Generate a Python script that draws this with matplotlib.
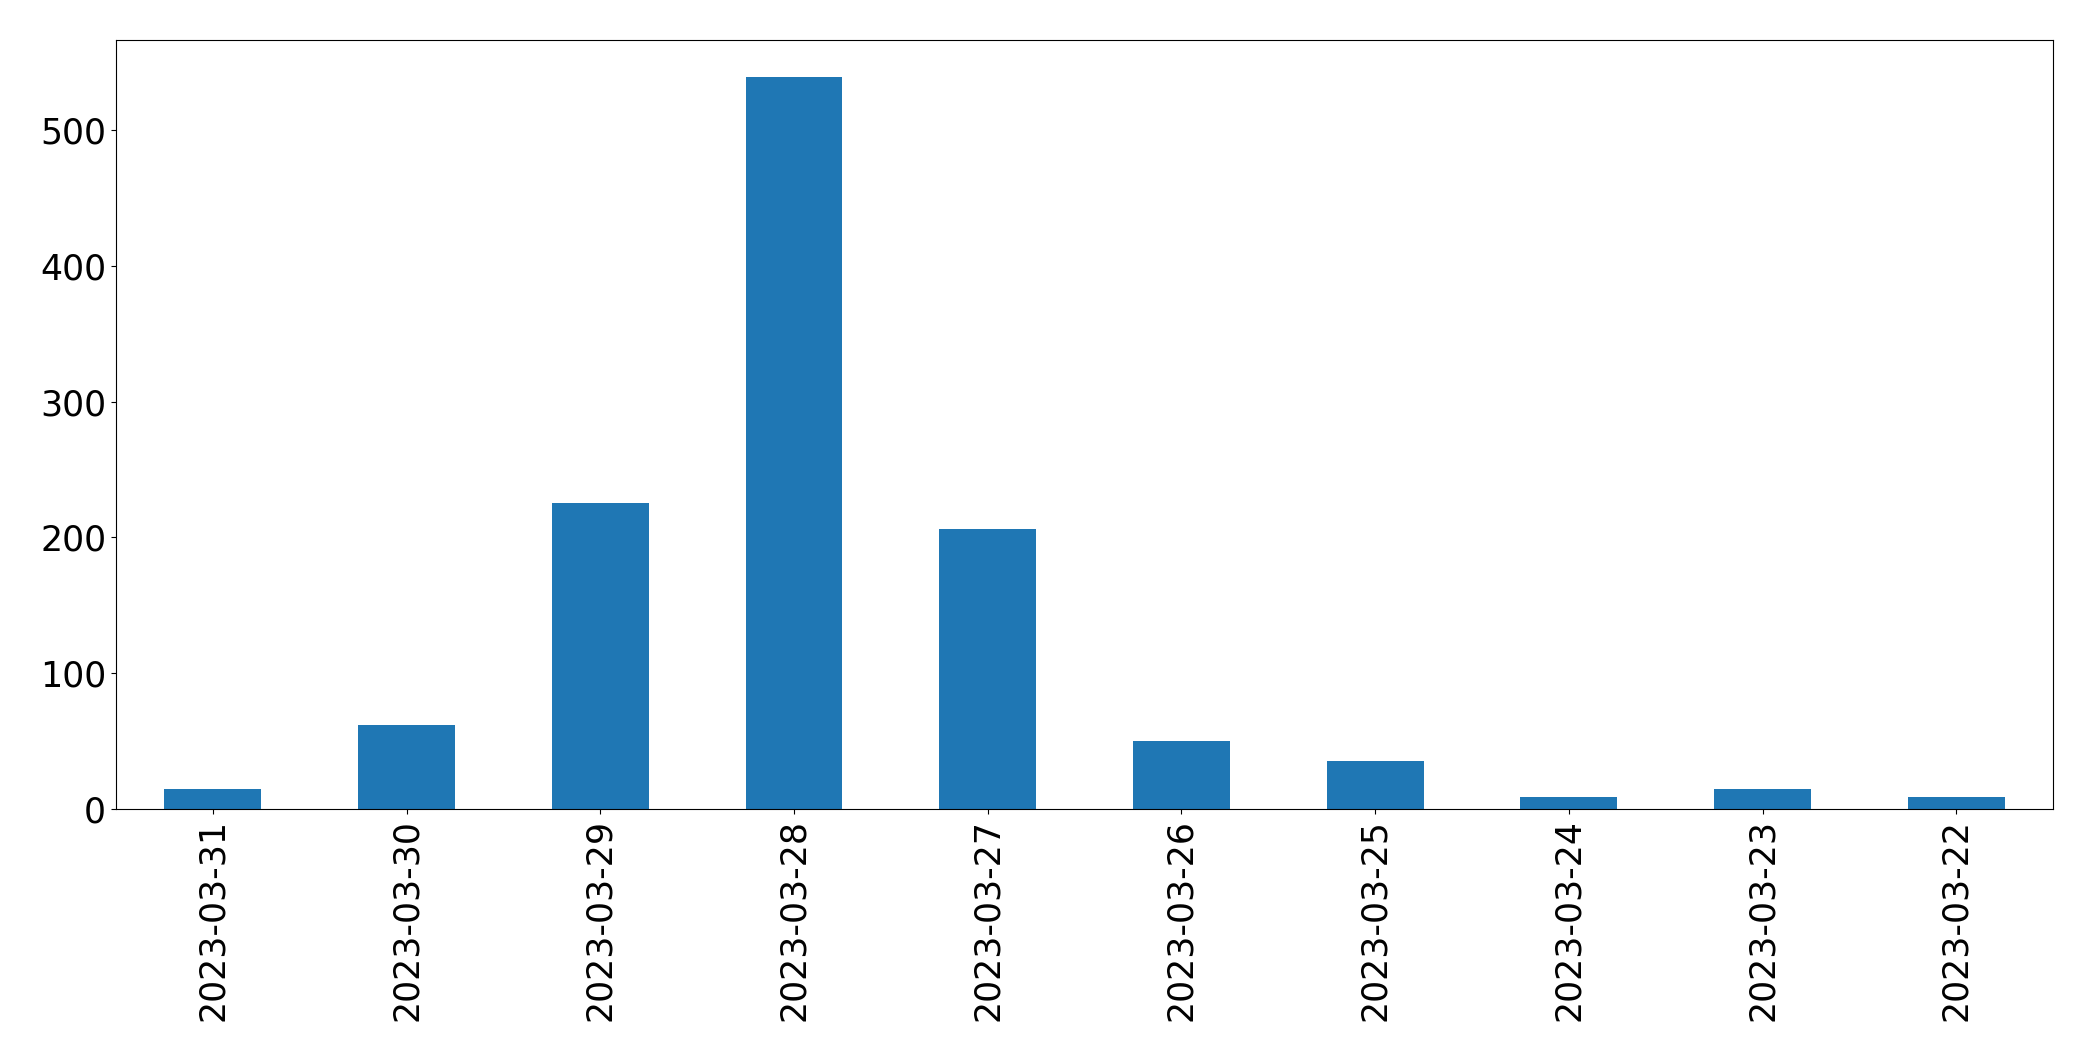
import matplotlib
matplotlib.use("Agg")
import matplotlib.pyplot as plt

# daily counts, newest first
dates = ['2023-03-31', '2023-03-30', '2023-03-29', '2023-03-28', '2023-03-27',
         '2023-03-26', '2023-03-25', '2023-03-24', '2023-03-23', '2023-03-22']
counts = [15, 62, 225, 539, 206, 50, 35, 9, 15, 9]

fig, ax = plt.subplots(figsize=(20.93, 10.61), dpi=100)
fig.subplots_adjust(left=0.0554, right=0.981, top=0.962, bottom=0.2375)

x = range(len(dates))
ax.bar(x, counts, width=0.5, color='#1f77b4')
ax.set_xticks(list(x))
ax.set_xticklabels(dates, rotation=90)
ax.set_xlim(-0.5, len(dates) - 0.5)
ax.tick_params(axis='both', labelsize=25)

plt.savefig('out.png', dpi=100)
